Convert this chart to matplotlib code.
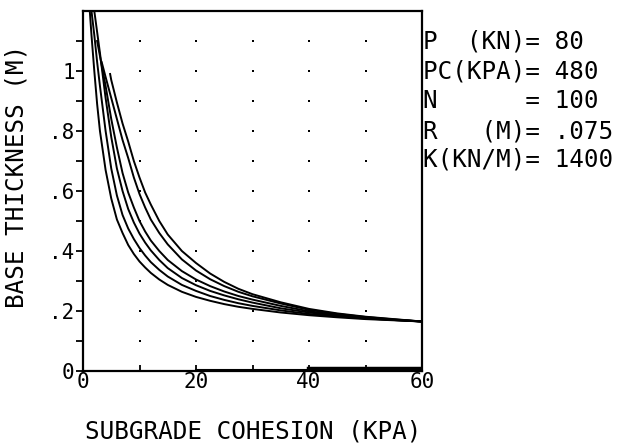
import numpy as np
import matplotlib
matplotlib.use("Agg")
import matplotlib.pyplot as plt

nan = np.nan

# subgrade cohesion (kPa) grid shared by the curves
cohesion = [1.2, 1.5, 2, 2.5, 3, 4, 5, 6, 7, 8, 9, 10, 11, 12, 13.5, 15, 17.5, 20,
            22.5, 25, 27.5, 30, 35, 40, 45, 50, 55, 60]

# base thickness (m), one list per curve (nan = curve not started yet)
curve1 = [1.20, 1.12, 1.00, 0.89, 0.80, 0.67, 0.575, 0.505, 0.46, 0.42, 0.39, 0.365, 0.345, 0.327,
          0.305, 0.287, 0.264, 0.247, 0.234, 0.223, 0.214, 0.207, 0.195, 0.186, 0.179, 0.173, 0.169, 0.165]
curve2 = [nan, 1.20, 1.12, 1.03, 0.95, 0.80, 0.675, 0.585, 0.52, 0.475, 0.44, 0.41, 0.385, 0.363,
          0.337, 0.315, 0.287, 0.267, 0.250, 0.237, 0.226, 0.217, 0.202, 0.190, 0.182, 0.175, 0.170, 0.165]
curve3 = [nan, nan, 1.20, 1.13, 1.06, 0.91, 0.78, 0.675, 0.60, 0.54, 0.495, 0.458, 0.428, 0.402,
          0.370, 0.343, 0.310, 0.286, 0.267, 0.252, 0.239, 0.228, 0.209, 0.195, 0.184, 0.176, 0.170, 0.165]
curve4 = [nan, nan, nan, 1.10, 1.05, 0.95, 0.84, 0.745, 0.66, 0.595, 0.545, 0.50, 0.465, 0.435,
          0.400, 0.370, 0.333, 0.305, 0.283, 0.265, 0.250, 0.238, 0.217, 0.199, 0.187, 0.178, 0.171, 0.165]
curve5 = [nan, nan, nan, nan, nan, 0.98, 0.91, 0.84, 0.77, 0.71, 0.645, 0.59, 0.545, 0.505,
          0.460, 0.422, 0.372, 0.335, 0.306, 0.283, 0.264, 0.249, 0.225, 0.204, 0.190, 0.180, 0.172, 0.165]
curve6 = [nan, nan, nan, nan, nan, nan, 0.97, 0.895, 0.825, 0.765, 0.70, 0.645, 0.595, 0.555,
          0.500, 0.455, 0.400, 0.360, 0.325, 0.297, 0.274, 0.256, 0.229, 0.207, 0.192, 0.181, 0.173, 0.165]

# first point of each curve when it falls between grid values
start_c = [None, None, None, None, 3.3, 4.8]
start_b = [None, None, None, None, 1.03, 0.99]

# line lying on the zero level
zero_thin_c = [20, 60]
zero_thick_c = [40, 60]

params = ["P  (KN)= 80", "PC(KPA)= 480", "N      = 100", "R   (M)= .075", "K(KN/M)= 1400"]

mono = "DejaVu Sans Mono"
W, H = 625, 446
fig = plt.figure(figsize=(W / 100, H / 100), dpi=100)
ax = fig.add_axes([83 / W, 1 - 371 / H, (422 - 83) / W, 360 / H])

curves = [curve1, curve2, curve3, curve4, curve5, curve6]
for k, b in enumerate(curves):
    c = np.array(cohesion, dtype=float)
    b = np.array(b, dtype=float)
    ok = ~np.isnan(b)
    c, b = c[ok], b[ok]
    if start_c[k] is not None:
        c = np.r_[start_c[k], c]
        b = np.r_[start_b[k], b]
    ax.plot(c, b, color="black", lw=1.4)

ax.plot(zero_thin_c, [0.004, 0.004], color="black", lw=1.5)
ax.plot(zero_thick_c, [0.006, 0.006], color="black", lw=3.2)

# dotted grid
gx, gy = np.meshgrid([10, 20, 30, 40, 50], np.arange(1, 12) / 10)
ax.scatter(gx.ravel(), gy.ravel(), s=3, color="black", marker="s", lw=0)

ax.set_xlim(0, 60)
ax.set_ylim(0, 1.2)
for s in ax.spines.values():
    s.set_linewidth(1.6)

ax.set_xticks([0, 20, 40, 60])
ax.set_xticklabels(["0", "20", "40", "60"], family=mono, fontsize=15)
ax.set_xticks([10, 30, 50], minor=True)
ax.tick_params(axis="x", which="both", direction="in", length=4, width=1.3, pad=1)

ax.set_yticks(np.arange(0, 12) / 10)
ax.set_yticklabels(["0", "", ".2", "", ".4", "", ".6", "", ".8", "", "1", ""], family=mono, fontsize=15)
ax.tick_params(axis="y", direction="out", length=5, width=1.3, pad=1)

fig.text(253 / W, 1 - 432 / H, "SUBGRADE COHESION (KPA)", family=mono, fontsize=17.5,
         ha="center", va="center")
fig.text(17 / W, 1 - 176 / H, "BASE THICKNESS (M)", family=mono, fontsize=17.5,
         ha="center", va="center", rotation=90)

ys = [42, 72, 101, 131, 160]
for t, y in zip(params, ys):
    fig.text(423 / W, 1 - y / H, t, family=mono, fontsize=17.5, ha="left", va="center")

fig.savefig("out.png", dpi=100)
